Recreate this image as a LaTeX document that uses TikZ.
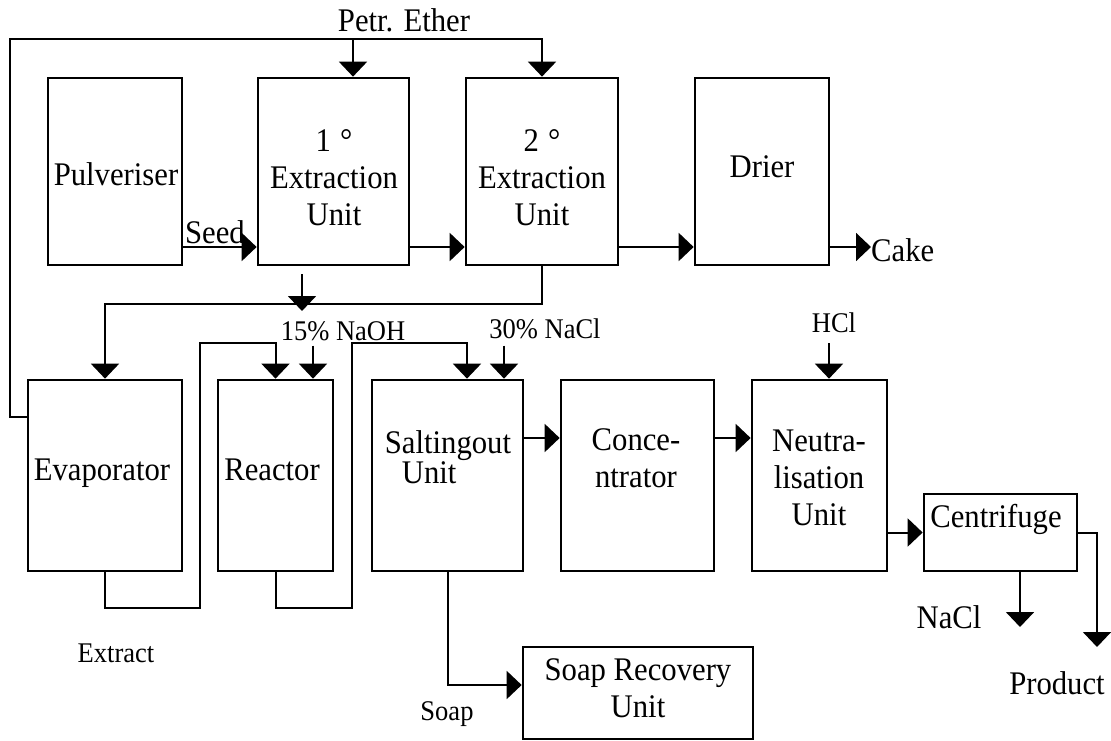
\documentclass[tikz,border=0pt]{standalone}
\usepackage{fontspec}
\setmainfont{Liberation Serif}[FakeStretch=0.93]
\usetikzlibrary{arrows.meta,calc}
\begin{document}
\begin{tikzpicture}[x=1pt,y=-1pt,
  box/.style={draw,line width=2.7pt,inner sep=0pt,rectangle},
  txt/.style={font=\fontsize{33}{37}\selectfont,inner sep=0pt},
  sml/.style={font=\fontsize{28.5}{31}\selectfont,inner sep=0pt},
  flow/.style={line width=2pt,-{Triangle[width=28pt,length=15pt]}},
  pipe/.style={line width=2pt}]
\useasboundingbox (0,0) rectangle (1111,741);
\fill[white] (0,0) rectangle (1111,741);
% boxes
\node[box,minimum width=134pt,minimum height=187pt] (pulv) at (115,171.5) {};
\node[box,minimum width=151pt,minimum height=187pt] (ext1) at (333.5,171.5) {};
\node[box,minimum width=152pt,minimum height=187pt] (ext2) at (542,171.5) {};
\node[box,minimum width=134pt,minimum height=187pt] (drier) at (762,171.5) {};
\node[box,minimum width=154pt,minimum height=191pt] (evap) at (105,475.5) {};
\node[box,minimum width=115pt,minimum height=191pt] (reactor) at (275.5,475.5) {};
\node[box,minimum width=151pt,minimum height=191pt] (salt) at (447.5,475.5) {};
\node[box,minimum width=153pt,minimum height=191pt] (conc) at (637.5,475.5) {};
\node[box,minimum width=135pt,minimum height=191pt] (neut) at (819.5,475.5) {};
\node[box,minimum width=153pt,minimum height=77pt] (centr) at (1000.5,532.5) {};
\node[box,minimum width=230pt,minimum height=92pt] (soaprec) at (638,693) {};
% box texts
\node[txt,anchor=base] (pulvT) at (116,185) {Pulveriser};
\node[txt,anchor=north,align=center] (ext1T) at (334,129) {1\hspace{9pt}°\\Extraction\\Unit};
\node[txt,anchor=north,align=center] (ext2T) at (542,129) {2\hspace{9pt}°\\Extraction\\Unit};
\node[txt,anchor=base] (drierT) at (762,177) {Drier};
\node[txt,anchor=base] (evapT) at (102,480) {Evaporator};
\node[txt,anchor=base] (reactorT) at (272,480) {Reactor};
\node[txt,anchor=north,align=left,font=\fontsize{33}{30}\selectfont] (saltT) at (448,430) {Saltingout\\\hspace*{17pt}Unit};
\node[txt,anchor=north,align=center] (concT) at (636,428) {Conce-\\ntrator};
\node[txt,anchor=north,align=center] (neutT) at (819,430) {Neutra-\\lisation\\Unit};
\node[txt,anchor=base] (centrT) at (996,527) {Centrifuge};
\node[txt,anchor=north,align=center] (soaprecT) at (638,658) {Soap Recovery\\Unit};
% stream labels
\node[txt,anchor=base] (pe) at (404,32) {Petr. Ether};
\node[txt,anchor=base] (seed) at (215,243) {Seed};
\node[txt,anchor=base west] (cake) at (871,261) {Cake};
\node[sml,anchor=base] (naoh) at (343,340) {15\% NaOH};
\node[sml,anchor=base] (nacl30) at (545,338) {30\% NaCl};
\node[sml,anchor=base] (hcl) at (834,332) {HCl};
\node[sml,anchor=base] (extract) at (116,662) {Extract};
\node[sml,anchor=base] (soap) at (447,720) {Soap};
\node[txt,anchor=base] (naclout) at (949,628) {NaCl};
\node[txt,anchor=base] (product) at (1057,694) {Product};
% coordinates
\coordinate (r1) at (0,247);
\coordinate (r2) at (0,438);
\coordinate (fbE) at ([yshift=-38pt]evap.north west);
\coordinate (fbC) at (10,39);
\coordinate (fb1) at (353,39);
\coordinate (jc) at (0,304);
\coordinate (s2) at (302,311);
\coordinate (lb) at (0,608);
\coordinate (lt) at (0,343);
\coordinate (l1) at (200,0);
\coordinate (l2) at (352,0);
\coordinate (sIn) at ([xshift=19.5pt]salt.north);
\coordinate (naohIn) at ([xshift=37.5pt]reactor.north);
\coordinate (naclIn) at ([xshift=56.5pt]salt.north);
\coordinate (hclIn) at ([xshift=9.5pt]neut.north);
\coordinate (c1) at ([xshift=19.5pt]centr.south);
\coordinate (naclEnd) at (1020,627);
\coordinate (prodEnd) at (1097,647);
\coordinate (soapY) at (0,685);
% connectors
\draw[flow] (fbE) -| (fbC) -| (ext2.north);
\draw[flow] (fb1) -- (fb1 |- ext1.north);
\draw[flow] (pulv.east |- r1) -- (ext1.west |- r1);
\draw[flow] (ext1.east |- r1) -- (ext2.west |- r1);
\draw[flow] (ext2.east |- r1) -- (drier.west |- r1);
\draw[flow] (drier.east |- r1) -- (cake.west |- r1);
\draw[flow] ($(ext1.south -| s2)+(0,8)$) -- (s2);
\draw[flow] (ext2.south) |- (evap.north |- jc) -- (evap.north);
\draw[flow] (evap.south) |- (l1 |- lb) |- (reactor.north |- lt) -- (reactor.north);
\draw[flow] (reactor.south) |- (l2 |- lb) |- (sIn |- lt) -- (sIn);
\draw[flow] ($(naohIn |- naoh.south)+(0,5)$) -- (naohIn);
\draw[flow] ($(naclIn |- nacl30.south)+(0,7)$) -- (naclIn);
\draw[flow] ($(hclIn |- hcl.south)+(0,11)$) -- (hclIn);
\draw[flow] (salt.east |- r2) -- (conc.west |- r2);
\draw[flow] (conc.east |- r2) -- (neut.west |- r2);
\draw[flow] (neut.east |- centr.west) -- (centr.west);
\draw[flow] (c1) -- (naclEnd);
\draw[flow] (centr.east) -| (prodEnd);
\draw[flow] (salt.south) |- (soaprec.west |- soapY);
\end{tikzpicture}
\end{document}
